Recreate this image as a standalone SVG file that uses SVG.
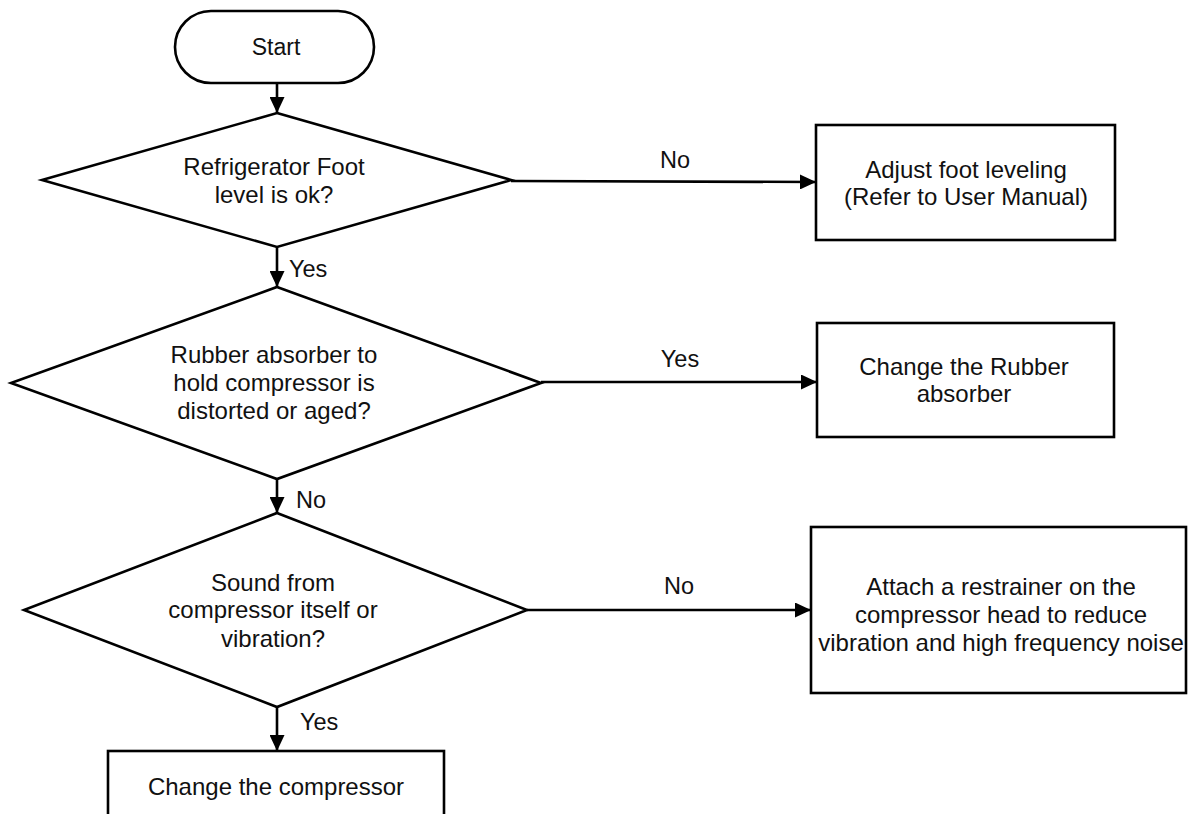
<svg xmlns="http://www.w3.org/2000/svg" width="1193" height="814" viewBox="0 0 1193 814">
<style>
.s{fill:#fff;stroke:#000;stroke-width:2.6}
.t{font-family:"Liberation Sans",Arial,Helvetica,sans-serif;font-size:24px;fill:#111;text-anchor:middle}
.l{font-family:"Liberation Sans",Arial,Helvetica,sans-serif;font-size:23.5px;fill:#111}
.c{fill:none;stroke:#000;stroke-width:2.6}
</style>
<defs>
<marker id="ah" viewBox="0 0 16 15" refX="16" refY="7.5" markerWidth="16" markerHeight="15" markerUnits="userSpaceOnUse" orient="auto">
<path d="M0,0 L16,7.5 L0,15 z" fill="#000"/>
</marker>
</defs>
<rect width="1193" height="814" fill="#fff"/>
<g id="connectors">
<line class="c" x1="277" y1="83" x2="277" y2="113" marker-end="url(#ah)"/>
<line class="c" x1="511" y1="181" x2="816" y2="182" marker-end="url(#ah)"/>
<line class="c" x1="277" y1="247" x2="277" y2="287" marker-end="url(#ah)"/>
<line class="c" x1="541" y1="382" x2="817" y2="382" marker-end="url(#ah)"/>
<line class="c" x1="277" y1="479" x2="277" y2="513" marker-end="url(#ah)"/>
<line class="c" x1="527" y1="610" x2="811" y2="610" marker-end="url(#ah)"/>
<line class="c" x1="277" y1="707" x2="277" y2="751" marker-end="url(#ah)"/>
<text class="l" x="675" y="168" text-anchor="middle">No</text>
<text class="l" x="289" y="277">Yes</text>
<text class="l" x="680" y="367" text-anchor="middle">Yes</text>
<text class="l" x="296" y="508">No</text>
<text class="l" x="679" y="594" text-anchor="middle">No</text>
<text class="l" x="300" y="730">Yes</text>
</g>
<g id="start">
<rect class="s" x="175" y="11" width="199" height="72" rx="36" ry="36"/>
<text class="t" x="276" y="55" style="font-size:23px">Start</text>
</g>
<g id="d1">
<polygon class="s" points="277,113 511,180 277,247 42,180"/>
<text class="t" x="274" y="175">Refrigerator Foot</text>
<text class="t" x="274" y="203">level is ok?</text>
</g>
<g id="box1">
<rect class="s" x="816" y="125" width="299" height="115"/>
<text class="t" x="966" y="178">Adjust foot leveling</text>
<text class="t" x="966" y="205">(Refer to User Manual)</text>
</g>
<g id="d2">
<polygon class="s" points="277,287 541,383 277,479 11,383"/>
<text class="t" x="274" y="363">Rubber absorber to</text>
<text class="t" x="274" y="391">hold compressor is</text>
<text class="t" x="274" y="419">distorted or aged?</text>
</g>
<g id="box2">
<rect class="s" x="817" y="323" width="297" height="114"/>
<text class="t" x="964" y="375">Change the Rubber</text>
<text class="t" x="964" y="402">absorber</text>
</g>
<g id="d3">
<polygon class="s" points="277,513 527,610 277,707 24,610"/>
<text class="t" x="273" y="591">Sound from</text>
<text class="t" x="273" y="618">compressor itself or</text>
<text class="t" x="273" y="647">vibration?</text>
</g>
<g id="box3">
<rect class="s" x="811" y="527" width="375" height="166"/>
<text class="t" x="1001" y="595">Attach a restrainer on the</text>
<text class="t" x="1001" y="623">compressor head to reduce</text>
<text class="t" x="1001" y="651">vibration and high frequency noise</text>
</g>
<g id="box4">
<rect class="s" x="108" y="751" width="336" height="90"/>
<text class="t" x="276" y="795">Change the compressor</text>
</g>
</svg>
